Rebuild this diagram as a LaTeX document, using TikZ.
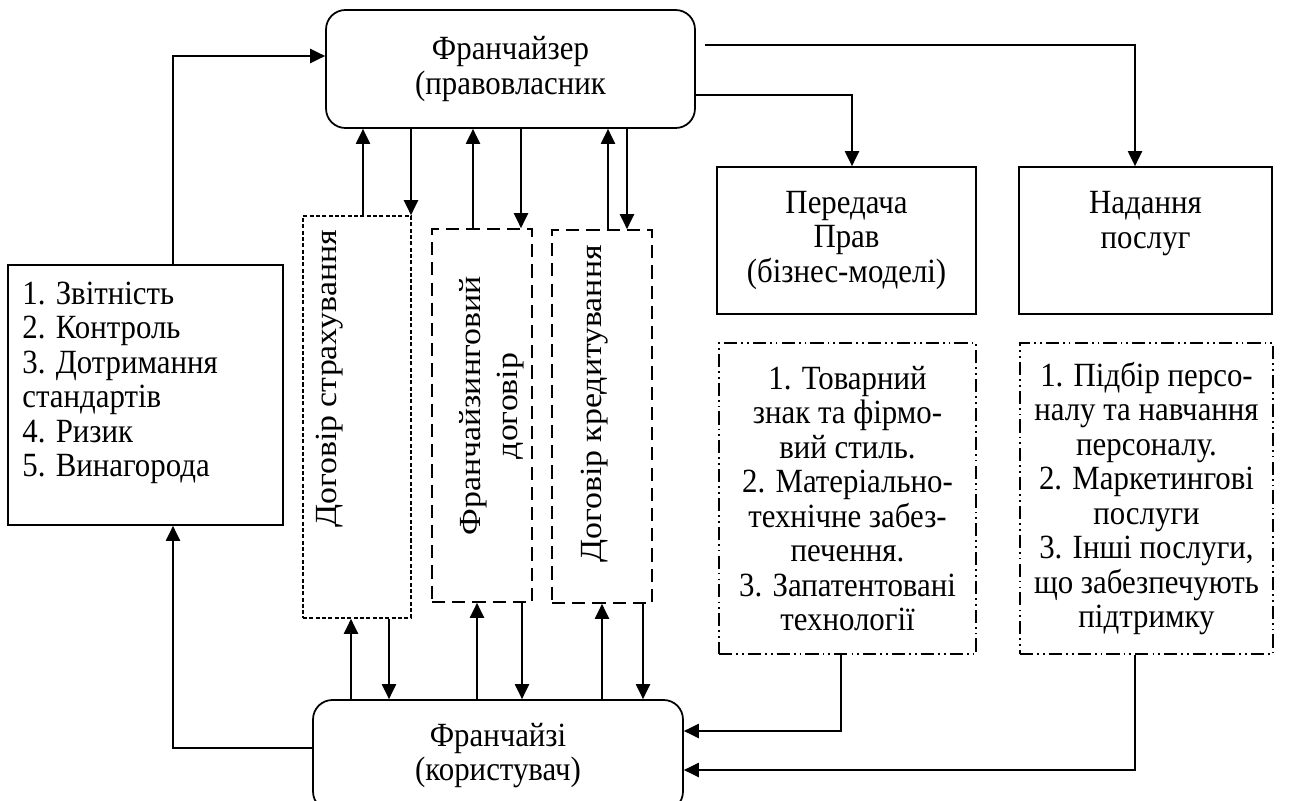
\documentclass[tikz,border=0pt]{standalone}
\usepackage{fontspec}
\setmainfont{Liberation Serif}[FakeStretch=0.91]
\newfontfamily\vertfont{Liberation Serif}[FakeStretch=1.1]
\usetikzlibrary{arrows.meta,positioning}

\begin{document}
\begin{tikzpicture}[
  x=0.02cm, y=-0.02cm, >={Triangle[length=8.5pt,width=8pt]},
  bbox/.style={rectangle,draw,line width=1pt,inner sep=0pt,align=center,
    font=\fontsize{19.3pt}{19.6pt}\selectfont},
  roundb/.style={bbox,rounded corners=11pt},
  dotb/.style={bbox,dash pattern=on 2.3pt off 1.3pt},
  dashb/.style={bbox,dash pattern=on 7.5pt off 4pt},
  dashdotb/.style={bbox,dash pattern=on 7.5pt off 2.3pt on 1pt off 2.3pt on 1pt off 2.3pt},
  txt/.style={inner sep=0pt,font=\fontsize{19.3pt}{19.6pt}\selectfont},
  vtxt/.style={inner sep=0pt,rotate=90,font=\vertfont\fontsize{17.5pt}{21pt}\selectfont},
  arrow/.style={->,line width=1pt},
]
\useasboundingbox (0,0) rectangle (1302,801);

% main parties
\node[roundb,minimum width=7.38cm,minimum height=2.36cm] (franchizer) at (510.5,69)
  {Франчайзер\\(правовласник};
\node[roundb,minimum width=7.4cm,minimum height=2.22cm] (franchisee) at (498,755.5)
  {Франчайзі\\(користувач)};

% obligations of the franchisee
\node[bbox,minimum width=5.5cm,minimum height=5.2cm] (zvit) at (145.5,395) {};
\node[txt,align=left,anchor=west] (zvittxt) at (22,383)
  {1. Звітність\\2. Контроль\\3. Дотримання\\стандартів\\4. Ризик\\5. Винагорода};

% contracts
\node[dotb,minimum width=2.16cm,minimum height=8.04cm] (strakh) at (357,417) {};
\node[vtxt] (strakhtxt) at (330,379) {Договір страхування};
\node[dashb,minimum width=2cm,minimum height=7.46cm] (fdog) at (482,415.5) {};
\node[vtxt,align=center] (fdogtxt) at (492,406) {Франчайзинговий\\договір};
\node[dashb,minimum width=2cm,minimum height=7.46cm] (kred) at (602,416.5) {};
\node[vtxt] (kredtxt) at (595,404) {Договір кредитування};

% what the franchisor gives
\node[bbox,minimum width=5.18cm,minimum height=2.94cm] (peredacha) at (846.5,240.5)
  {Передача\\Прав\\(бізнес-моделі)};
\node[bbox,minimum width=5.06cm,minimum height=2.94cm] (nadannya) at (1145.5,240.5) {};
\node[txt,align=center] (nadannyatxt) at (1145.5,223.5) {Надання\\послуг};
\node[dashdotb,minimum width=5.14cm,minimum height=6.22cm] (tovar) at (847.5,498.5)
  {1. Товарний\\знак та фірмо-\\вий стиль.\\2. Матеріально-\\технічне забез-\\печення.\\3. Запатентовані\\технології};
\node[dashdotb,minimum width=5.06cm,minimum height=6.22cm] (posluhy) at (1146.5,498.5)
  {1. Підбір персо-\\налу та навчання\\персоналу.\\2. Маркетингові\\послуги\\3. Інші послуги,\\що забезпечують\\підтримку};

\coordinate (gate) at (705,45);

% feedback loop on the left
\draw[arrow] (173,0 |- zvit.north) |- (franchizer.west |- 0,56);
\draw[arrow] (franchisee.west |- 0,748) -| (zvit.south -| 173,0);

% contracts and the franchisor
\draw[arrow] (363,0 |- strakh.north) -- (363,0 |- franchizer.south);
\draw[arrow] (411,0 |- franchizer.south) -- (411,0 |- strakh.north);
\draw[arrow] (473,0 |- fdog.north) -- (473,0 |- franchizer.south);
\draw[arrow] (521,0 |- franchizer.south) -- (521,0 |- fdog.north);
\draw[arrow] (608,0 |- kred.north) -- (608,0 |- franchizer.south);
\draw[arrow] (627,0 |- franchizer.south) -- (627,0 |- kred.north);

% contracts and the franchisee
\draw[arrow] (351,0 |- franchisee.north) -- (351,0 |- strakh.south);
\draw[arrow] (389,0 |- strakh.south) -- (389,0 |- franchisee.north);
\draw[arrow] (477,0 |- franchisee.north) -- (477,0 |- fdog.south);
\draw[arrow] (522,0 |- fdog.south) -- (522,0 |- franchisee.north);
\draw[arrow] (602,0 |- franchisee.north) -- (602,0 |- kred.south);
\draw[arrow] (643,0 |- kred.south) -- (643,0 |- franchisee.north);

% right branch
\draw[arrow] (gate) -| (1135,0 |- nadannya.north);
\draw[arrow] (franchizer.east |- 0,95) -| (852,0 |- peredacha.north);
\draw[arrow] (841,0 |- tovar.south) |- (franchisee.east |- 0,731);
\draw[arrow] (1135,0 |- posluhy.south) |- (franchisee.east |- 0,770);
\end{tikzpicture}
\end{document}
